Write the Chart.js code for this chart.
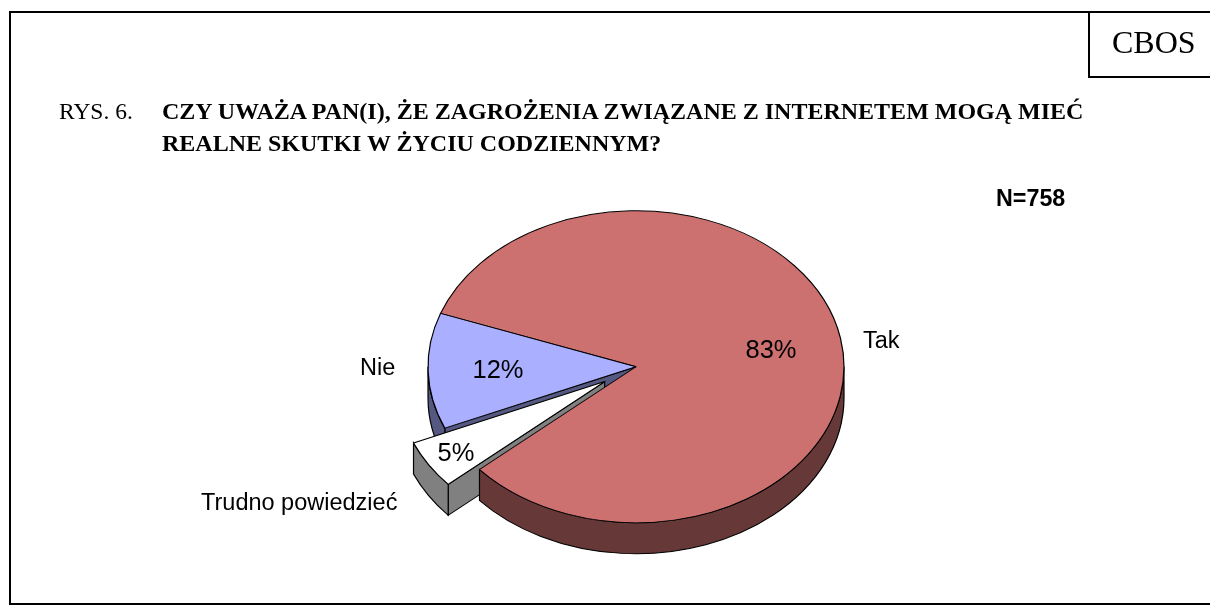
<!DOCTYPE html>
<html lang="pl">
<head>
<meta charset="utf-8">
<title>RYS. 6.</title>
<script src="https://cdn.jsdelivr.net/npm/chart.js@4"></script>
<style>
    html, body { margin: 0; padding: 0; background: #fff; }
    #page { position: relative; width: 1210px; height: 605px; overflow: hidden; background: #fff; }
    #chart { position: absolute; left: 0; top: 0; }
    .txt { position: absolute; white-space: nowrap; color: #000; line-height: 1; }
    .serif { font-family: "Liberation Serif", serif; }
    .sans { font-family: "Liberation Sans", sans-serif; }
    .rule { position: absolute; background: #000; }
</style>
</head>
<body>
<div id="page">
    <canvas id="chart" width="1210" height="605"></canvas>
    <div class="rule" style="left:9px;top:11px;width:1201px;height:2px"></div>
    <div class="rule" style="left:9px;top:11px;width:2px;height:594px"></div>
    <div class="rule" style="left:9px;top:603px;width:1201px;height:2px"></div>
    <div class="rule" style="left:1088px;top:11px;width:2px;height:67px"></div>
    <div class="rule" style="left:1088px;top:76px;width:122px;height:2px"></div>
    <div class="txt serif" style="left:1112px;top:26px;font-size:32px">CBOS</div>
    <div class="txt serif" style="left:59px;top:100px;font-size:23.5px">RYS. 6.</div>
    <div class="txt serif" style="left:162px;top:99px;font-size:24px;font-weight:bold">CZY UWAŻA PAN(I), ŻE ZAGROŻENIA ZWIĄZANE Z INTERNETEM MOGĄ MIEĆ</div>
    <div class="txt serif" style="left:162px;top:131px;font-size:24px;font-weight:bold">REALNE SKUTKI W ŻYCIU CODZIENNYM?</div>
    <div class="txt sans" style="left:996px;top:187px;font-size:23.3px;font-weight:bold">N=758</div>
</div>
<script>
const categories = ['Tak', 'Trudno powiedzieć', 'Nie'];
const values = [83, 5, 12];
const explode = [0, 37, 0];

const topColors = ['#CC7070', '#FFFFFF', '#AAB0FF'];
const sideColors = ['#663838', '#808080', '#555880'];

const squash = 0.75;   // pie is tilted, so the circle is drawn as an ellipse
const depth = 31;
const midY = 366;
const labelFont = '23.5px "Liberation Sans", sans-serif';
const pctFont = '25.5px "Liberation Sans", sans-serif';
const nameAt = [[863, 342], [201, 504], [360, 369]];
const pctAt = [[771, 351], [456, 454], [498, 371]];

const faceOrder = [0, 2, 1];
const rimOrder = [2, 1, 0];

const tiltedPie = {
    id: 'tiltedPie',
    afterDatasetUpdate(chart) {
        // move the cut out slice along its middle angle
        chart.getDatasetMeta(0).data.forEach((arc, i) => {
            const mid = (arc.startAngle + arc.endAngle) / 2;
            arc.x += Math.cos(mid) * explode[i];
            arc.y += Math.sin(mid) * explode[i];
        });
    },
    beforeDatasetsDraw(chart) {
        const ctx = chart.ctx;
        const arcs = chart.getDatasetMeta(0).data;
        ctx.save();
        ctx.translate(0, midY);
        ctx.scale(1, squash);
        ctx.translate(0, -midY);
        ctx.lineWidth = 1.2;
        ctx.strokeStyle = '#000';
        const d = depth / squash;
        faceOrder.forEach(i => {
            const { x, y, startAngle, outerRadius: r } = arcs[i];
            ctx.fillStyle = sideColors[i];
            ctx.beginPath();
            ctx.moveTo(x, y);
            ctx.lineTo(x + r * Math.cos(startAngle), y + r * Math.sin(startAngle));
            ctx.lineTo(x + r * Math.cos(startAngle), y + d + r * Math.sin(startAngle));
            ctx.lineTo(x, y + d);
            ctx.closePath();
            ctx.fill();
            ctx.stroke();
        });
        rimOrder.forEach(i => {
            const { x, y, startAngle, endAngle, outerRadius: r } = arcs[i];
            ctx.fillStyle = sideColors[i];
            // only the part that faces the viewer
            [0, 2 * Math.PI].forEach(base => {
                const lo = Math.max(startAngle, base);
                const hi = Math.min(endAngle, base + Math.PI);
                if (hi <= lo) return;
                ctx.beginPath();
                ctx.arc(x, y, r, lo, hi);
                ctx.arc(x, y + d, r, hi, lo, true);
                ctx.closePath();
                ctx.fill();
                ctx.stroke();
            });
        });
    },
    afterDatasetsDraw(chart) {
        const ctx = chart.ctx;
        ctx.restore();
        ctx.save();
        ctx.fillStyle = '#000';
        ctx.textBaseline = 'middle';
        ctx.font = labelFont;
        ctx.textAlign = 'left';
        categories.forEach((name, i) => ctx.fillText(name, nameAt[i][0], nameAt[i][1]));
        ctx.font = pctFont;
        ctx.textAlign = 'center';
        values.forEach((v, i) => ctx.fillText(v + '%', pctAt[i][0], pctAt[i][1]));
        ctx.restore();
    }
};

new Chart(document.getElementById('chart'), {
    type: 'pie',
    data: {
        labels: categories,
        datasets: [{
            data: values,
            backgroundColor: topColors,
            borderColor: '#000',
            borderWidth: 1.2,
            clip: false
        }]
    },
    options: {
        responsive: false,
        animation: false,
        events: [],
        rotation: 290,
        radius: 208,
        layout: { padding: { left: 62, top: 129 } },
        plugins: {
            legend: { display: false },
            tooltip: { enabled: false }
        }
    },
    plugins: [tiltedPie]
});
</script>
</body>
</html>
